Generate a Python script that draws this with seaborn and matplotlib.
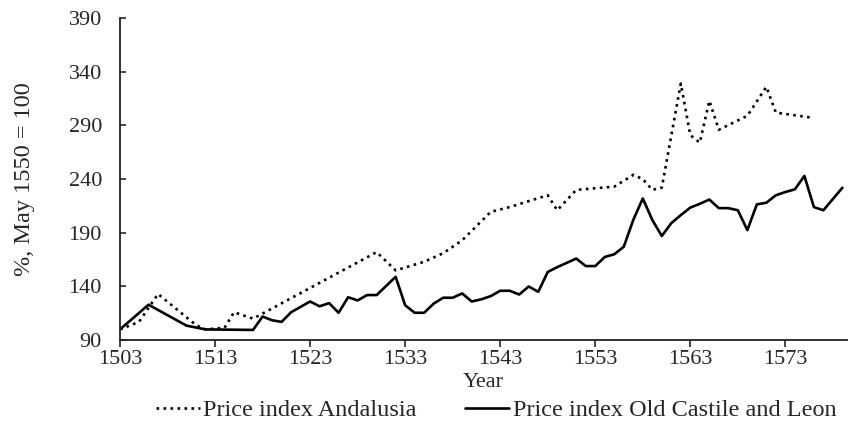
import pandas as pd
import matplotlib
matplotlib.use("Agg")
import matplotlib.pyplot as plt
import seaborn as sns

# Price index Andalusia (dotted)
andalusia_years = [1503, 1505, 1507, 1511, 1512, 1514, 1515, 1517, 1530, 1532,
                   1535, 1537, 1539, 1542, 1544, 1548, 1549, 1551, 1555, 1557,
                   1558, 1559, 1560, 1562, 1563, 1564, 1565, 1566, 1569, 1571,
                   1572, 1576]
andalusia_vals = [100, 107, 133, 104, 100, 101.5, 116, 110, 172, 155,
                  163, 171, 183, 209.5, 214, 225, 211, 230, 233, 244,
                  240, 230, 232, 329, 281, 274, 313, 286, 299, 326,
                  302, 297]

# Price index Old Castile and Leon (solid)
castile_years = [1503, 1506, 1510, 1512, 1517, 1518, 1519, 1520, 1521, 1522,
                 1523, 1524, 1525, 1526, 1527, 1528, 1529, 1530, 1532, 1533,
                 1534, 1535, 1536, 1537, 1538, 1539, 1540, 1541, 1542, 1543,
                 1544, 1545, 1546, 1547, 1548, 1549, 1550, 1551, 1552, 1553,
                 1554, 1555, 1556, 1557, 1558, 1559, 1560, 1561, 1562, 1563,
                 1564, 1565, 1566, 1567, 1568, 1569, 1570, 1571, 1572, 1573,
                 1574, 1575, 1576, 1577, 1579]
castile_vals = [100, 123, 103.5, 100, 99.5, 112, 108.5, 107, 116, 121,
                126, 121.5, 124.5, 115.5, 130, 127, 132, 132, 149, 122.5,
                115.5, 115.5, 124, 129.5, 129.5, 133.5, 126, 128, 131, 136,
                136, 132.5, 140, 135, 153.5, 158, 162, 166, 159, 159,
                167.5, 170, 177, 202, 222, 202, 187, 199, 206.5, 213.5,
                217, 221, 213, 213, 211, 192.5, 216.5, 218, 225, 228,
                230.5, 243, 214, 211, 232]

x_ticks = [1503, 1513, 1523, 1533, 1543, 1553, 1563, 1573]
y_ticks = [90, 140, 190, 240, 290, 340, 390]

sns.set_style("ticks")
plt.rcParams['font.family'] = ['Liberation Serif', 'DejaVu Serif']

andalusia = pd.DataFrame({"year": andalusia_years, "index": andalusia_vals})
castile = pd.DataFrame({"year": castile_years, "index": castile_vals})

fig = plt.figure(figsize=(8.48, 4.22), dpi=100)
ax = fig.add_axes([0.1415, 0.194, 0.8575, 0.763])

sns.lineplot(data=andalusia, x="year", y="index", ax=ax, color="black",
             linestyle=":", linewidth=1.9, label="Price index Andalusia")
sns.lineplot(data=castile, x="year", y="index", ax=ax, color="black",
             linewidth=1.9, label="Price index Old Castile and Leon")

ax.set_xlim(1503, 1579.5)
ax.set_ylim(90, 390)
ax.set_xticks(x_ticks)
ax.set_yticks(y_ticks)
ax.tick_params(axis="x", direction="out", length=5, width=1.2, labelsize=16, pad=2)
ax.tick_params(axis="y", direction="in", length=4, width=1.2, labelsize=16, pad=13)
for s in ["top", "right"]:
    ax.spines[s].set_visible(False)
for s in ["left", "bottom"]:
    ax.spines[s].set_linewidth(1.3)
    ax.spines[s].set_color("#222222")

ax.set_xlabel("Year", fontsize=16, labelpad=3)
ax.set_ylabel("%, May 1550 = 100", fontsize=17.5, labelpad=24)

ax.get_legend().remove()
handles, labels = ax.get_legend_handles_labels()
fig.legend(handles, labels, loc="lower center", bbox_to_anchor=(0.585, -0.05),
           ncol=2, frameon=False, fontsize=17.5, handlelength=1.8,
           handletextpad=0.15, columnspacing=2.0)

fig.savefig("out.png", dpi=100)
